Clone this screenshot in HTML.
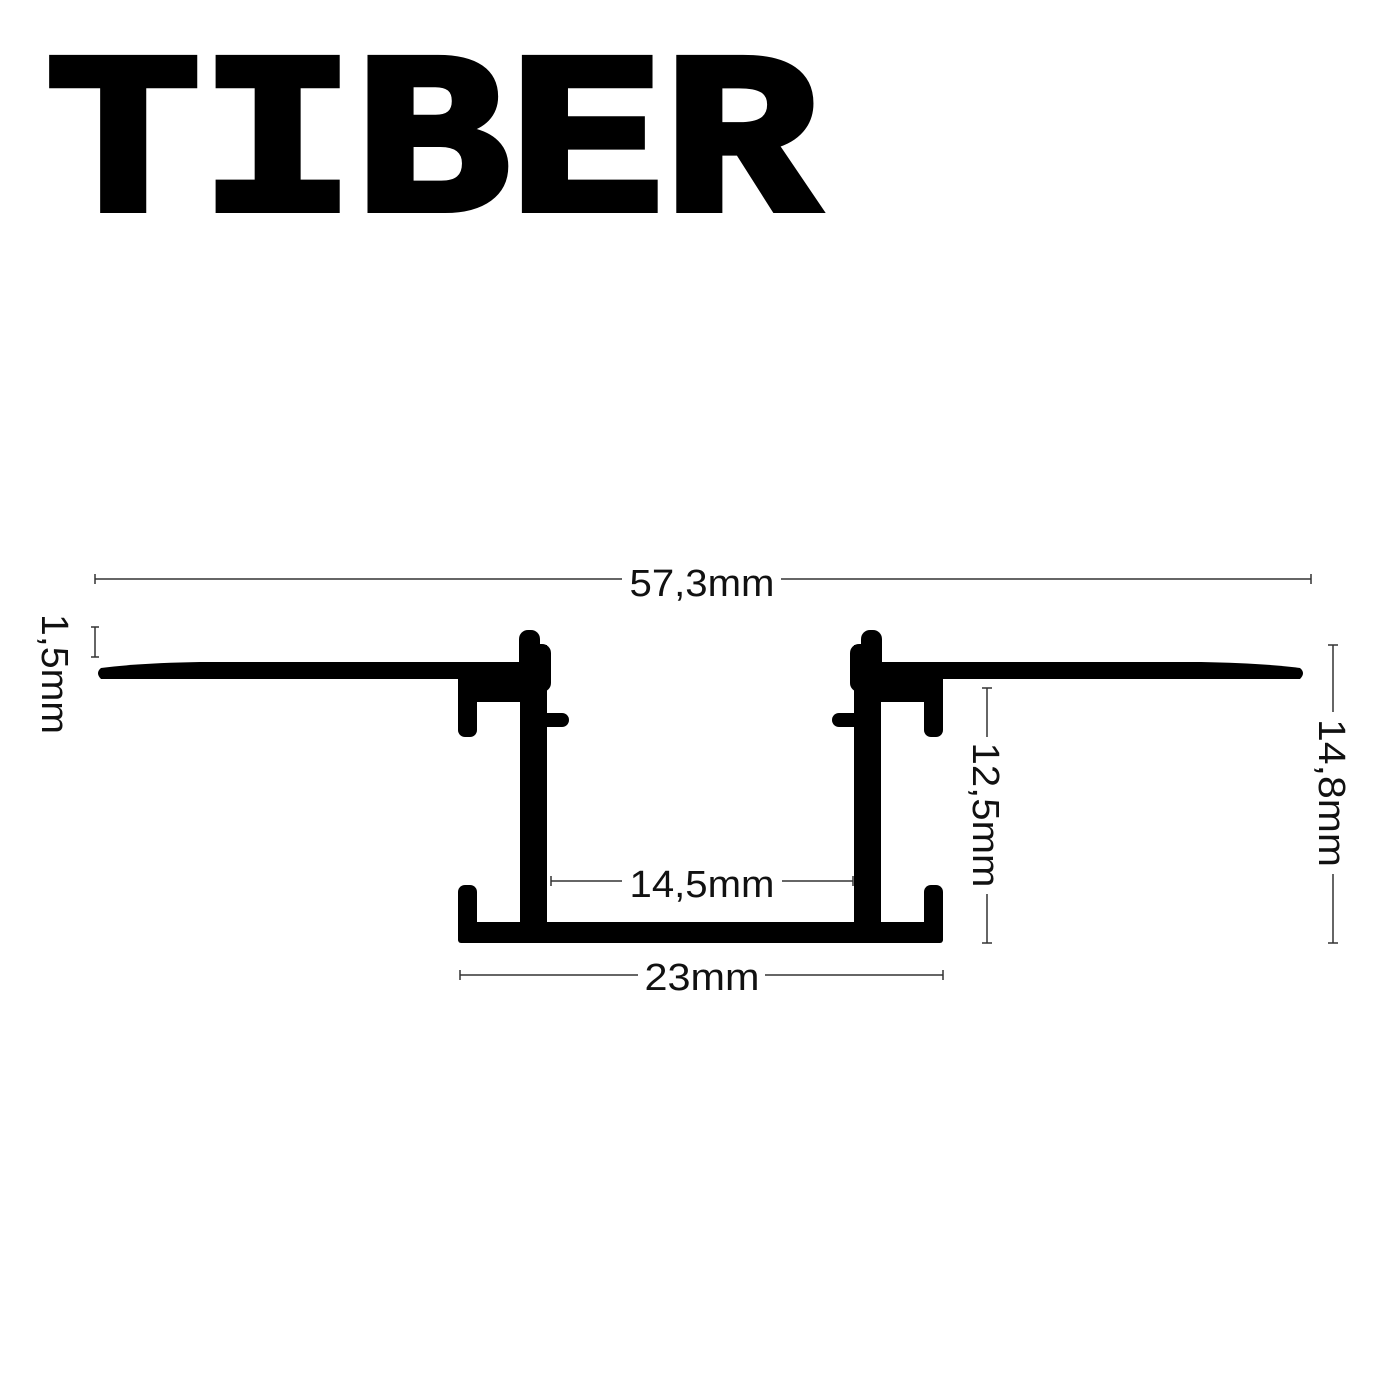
<!DOCTYPE html>
<html><head><meta charset="utf-8"><style>
html,body{margin:0;padding:0;background:#fff;}
svg{display:block;}
</style></head><body>
<svg width="1400" height="1400" viewBox="0 0 1400 1400" xmlns="http://www.w3.org/2000/svg">
<rect width="1400" height="1400" fill="#fff"/>
<text x="46" y="209" font-family="Liberation Mono, monospace" font-weight="bold" font-size="228" textLength="772" lengthAdjust="spacingAndGlyphs" fill="#000" stroke="#000" stroke-width="8" stroke-linejoin="miter">TIBER</text>

<g id="half" fill="#000">
  <path d="M101,668 Q95,673 101,679 L460,679 L460,662 L200,662 Q140,663 101,668 Z"/>
  <rect x="458" y="662" width="89" height="40"/>
  <rect x="458" y="685" width="19" height="52" rx="7"/>
  <rect x="520" y="645" width="27" height="298"/>
  <rect x="519" y="630" width="21" height="45" rx="9"/>
  <rect x="527" y="644" width="24" height="48" rx="9"/>
  <rect x="538" y="713" width="31" height="14" rx="7"/>
  <rect x="458" y="922" width="246" height="21" rx="3"/>
  <rect x="458" y="885" width="19" height="58" rx="7"/>
</g>
<use href="#half" transform="translate(1401,0) scale(-1,1)"/>

<g stroke="#333" stroke-width="1.5" fill="none">
  <line x1="95" y1="579" x2="622" y2="579"/><line x1="781" y1="579" x2="1311" y2="579"/>
  <line x1="95" y1="574" x2="95" y2="584"/><line x1="1311" y1="574" x2="1311" y2="584"/>
  <line x1="551" y1="881" x2="622" y2="881"/><line x1="782" y1="881" x2="853" y2="881"/>
  <line x1="551" y1="876" x2="551" y2="886"/><line x1="853" y1="876" x2="853" y2="886"/>
  <line x1="460" y1="975" x2="638" y2="975"/><line x1="765" y1="975" x2="943" y2="975"/>
  <line x1="460" y1="970" x2="460" y2="980"/><line x1="943" y1="970" x2="943" y2="980"/>
  <line x1="95" y1="627" x2="95" y2="657"/><line x1="91" y1="627" x2="99" y2="627"/><line x1="91" y1="657" x2="99" y2="657"/>
  <line x1="987" y1="688" x2="987" y2="737"/><line x1="987" y1="894" x2="987" y2="943"/>
  <line x1="982" y1="688" x2="992" y2="688"/><line x1="982" y1="943" x2="992" y2="943"/>
  <line x1="1333" y1="645" x2="1333" y2="712"/><line x1="1333" y1="874" x2="1333" y2="943"/>
  <line x1="1328" y1="645" x2="1338" y2="645"/><line x1="1328" y1="943" x2="1338" y2="943"/>
</g>

<g font-family="Liberation Sans, sans-serif" font-size="38" fill="#111" text-anchor="middle">
  <text x="702" y="596" textLength="145" lengthAdjust="spacingAndGlyphs">57,3mm</text>
  <text x="702" y="897" textLength="145" lengthAdjust="spacingAndGlyphs">14,5mm</text>
  <text x="702" y="990" textLength="115" lengthAdjust="spacingAndGlyphs">23mm</text>
  <text transform="translate(42,674) rotate(90)" textLength="120" lengthAdjust="spacingAndGlyphs">1,5mm</text>
  <text transform="translate(973,815) rotate(90)" textLength="145" lengthAdjust="spacingAndGlyphs">12,5mm</text>
  <text transform="translate(1319,793) rotate(90)" textLength="148" lengthAdjust="spacingAndGlyphs">14,8mm</text>
</g>
</svg>
</body></html>
